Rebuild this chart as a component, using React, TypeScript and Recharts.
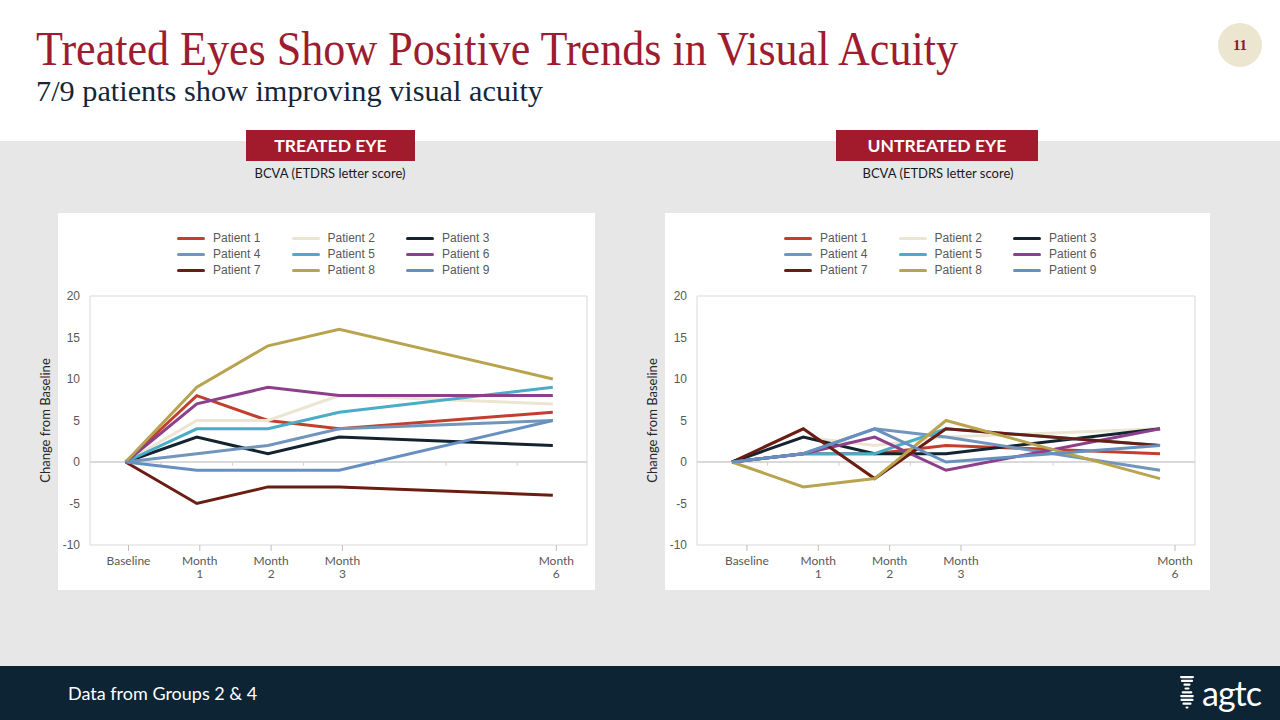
import React from 'react'
import { LineChart, Line, XAxis, YAxis, ReferenceLine, ReferenceArea } from 'recharts'

// x positions are months since treatment
const months = [0, 1, 2, 3, 6]
const yTicks = [-10, -5, 0, 5, 10, 15, 20]
const zeroTicks = [0.5, 1.5, 2.5, 3.5, 4.5, 5.5]

const patientNames = [
  'Patient 1', 'Patient 2', 'Patient 3',
  'Patient 4', 'Patient 5', 'Patient 6',
  'Patient 7', 'Patient 8', 'Patient 9',
]
const patientColors = [
  '#c23f2d', '#ebe5d1', '#13232f',
  '#7295bd', '#4aacc6', '#8c3f8b',
  '#6c1d13', '#b8a34f', '#6790c1',
]

// treated eye, change in ETDRS letters
const treatedP1 = [0, 8, 5, 4, 6]
const treatedP2 = [0, 5, 5, 8, 7]
const treatedP3 = [0, 3, 1, 3, 2]
const treatedP4 = [0, 1, 2, 4, 5]
const treatedP5 = [0, 4, 4, 6, 9]
const treatedP6 = [0, 7, 9, 8, 8]
const treatedP7 = [0, -5, -3, -3, -4]
const treatedP8 = [0, 9, 14, 16, 10]
const treatedP9 = [0, -1, -1, -1, 5]

// untreated eye
const untreatedP1 = [0, 1, 1, 2, 1]
const untreatedP2 = [0, 3, 2, 3, 4]
const untreatedP3 = [0, 3, 1, 1, 4]
const untreatedP4 = [0, 1, 4, 3, -1]
const untreatedP5 = [0, 1, 1, 4, 2]
const untreatedP6 = [0, 1, 3, -1, 4]
const untreatedP7 = [0, 4, -2, 4, 2]
const untreatedP8 = [0, -3, -2, 5, -2]
const untreatedP9 = [0, 1, 4, 0, 2]

const treatedSeries = [
  treatedP1, treatedP2, treatedP3, treatedP4, treatedP5,
  treatedP6, treatedP7, treatedP8, treatedP9,
]
const untreatedSeries = [
  untreatedP1, untreatedP2, untreatedP3, untreatedP4, untreatedP5,
  untreatedP6, untreatedP7, untreatedP8, untreatedP9,
]

function buildRows(series: number[][]) {
  return months.map((m, i) => {
    const row: Record<string, number> = { month: m }
    series.forEach((s, k) => {
      row['p' + (k + 1)] = s[i]
    })
    return row
  })
}

const axisGrey = '#595959'
const frameGrey = '#d9d9d9'

function MonthTick(props: any) {
  const { x, y, payload } = props
  const v = payload.value
  const style = { fontFamily: 'Lato', fontSize: 12, fill: axisGrey }
  if (v === 0) {
    return (
      <text x={x} y={y} dy={12} textAnchor="middle" style={style}>
        Baseline
      </text>
    )
  }
  return (
    <text x={x} y={y} textAnchor="middle" style={style}>
      <tspan x={x} dy={12}>Month</tspan>
      <tspan x={x} dy={13}>{v}</tspan>
    </text>
  )
}

function AxisTitle(props: any) {
  const vb = props.viewBox || { x: 0, y: 0, width: 0, height: 0 }
  const cx = vb.x + 15
  const cy = vb.y + vb.height / 2
  return (
    <text
      x={cx}
      y={cy}
      transform={`rotate(-90 ${cx} ${cy})`}
      textAnchor="middle"
      dominantBaseline="central"
      style={{ fontFamily: 'Lato', fontSize: 13, fill: '#262626' }}
    >
      Change from Baseline
    </text>
  )
}

function PatientLegend() {
  return (
    <div
      style={{
        position: 'absolute',
        left: 119,
        top: 17,
        display: 'grid',
        gridTemplateColumns: '114.5px 114.5px 114.5px',
        rowGap: 0,
        fontFamily: '"Liberation Sans", Arial, sans-serif',
        fontSize: 12,
        color: axisGrey,
      }}
    >
      {patientNames.map((n, k) => (
        <div key={n} style={{ display: 'flex', alignItems: 'center', height: 16 }}>
          <span
            style={{
              display: 'inline-block',
              width: 28,
              height: 3,
              borderRadius: 2,
              background: patientColors[k],
              marginRight: 8,
            }}
          />
          {n}
        </div>
      ))}
    </div>
  )
}

function PatientChart({
  series,
  dataDomain,
  labelDomain,
  width,
  right,
}: {
  series: number[][]
  dataDomain: [number, number]
  labelDomain: [number, number]
  width: number
  right: number
}) {
  const rows = buildRows(series)
  return (
    <LineChart width={width} height={377} data={rows} margin={{ top: 83, right, bottom: 0, left: 0 }}>
      <XAxis
        xAxisId="lbl"
        dataKey="month"
        type="number"
        domain={labelDomain}
        allowDataOverflow
        ticks={months}
        interval={0}
        tick={<MonthTick />}
        tickLine={{ stroke: '#bfbfbf' }}
        tickSize={6}
        tickMargin={2}
        axisLine={false}
        height={45}
      />
      <XAxis xAxisId="d" dataKey="month" type="number" domain={dataDomain} allowDataOverflow hide height={0} />
      <YAxis
        type="number"
        domain={[-10, 20]}
        ticks={yTicks}
        interval={0}
        width={60}
        axisLine={false}
        tickLine={false}
        tickMargin={4}
        tick={{ fontFamily: '"Liberation Sans", Arial, sans-serif', fontSize: 12, fill: axisGrey }}
        label={<AxisTitle />}
      />
      <ReferenceArea
        xAxisId="d"
        x1={dataDomain[0]}
        x2={dataDomain[1]}
        y1={-10}
        y2={20}
        fill="#ffffff"
        fillOpacity={0}
        stroke={frameGrey}
        strokeWidth={1}
        ifOverflow="visible"
      />
      <ReferenceLine xAxisId="d" y={0} stroke={frameGrey} strokeWidth={2} />
      {zeroTicks.map((h) => (
        <ReferenceLine
          key={h}
          xAxisId="d"
          segment={[{ x: h, y: 0 }, { x: h, y: -0.45 }]}
          stroke="#cfcfcf"
          strokeWidth={1}
        />
      ))}
      {series.map((_, k) => (
        <Line
          key={k}
          xAxisId="d"
          type="linear"
          dataKey={'p' + (k + 1)}
          name={patientNames[k]}
          stroke={patientColors[k]}
          strokeWidth={3}
          dot={false}
          activeDot={false}
          isAnimationActive={false}
        />
      ))}
    </LineChart>
  )
}

function PanelHeader({ left, width, title, center }: { left: number; width: number; title: string; center: number }) {
  return (
    <>
      <div
        style={{
          position: 'absolute',
          left,
          top: 130,
          width,
          height: 31,
          background: '#a11b2c',
          color: '#fff',
          fontFamily: 'Lato',
          fontWeight: 700,
          fontSize: 17.5,
          lineHeight: '32px',
          textAlign: 'center',
        }}
      >
        {title}
      </div>
      <div
        style={{
          position: 'absolute',
          left: center - 120,
          width: 240,
          top: 165,
          textAlign: 'center',
          fontFamily: 'Lato',
          fontSize: 13,
          color: '#1a1a1a',
        }}
      >
        BCVA (ETDRS letter score)
      </div>
    </>
  )
}

function Logo() {
  const rungs = [0, 1, 2, 3, 4, 5, 6, 7, 8]
  return (
    <div style={{ position: 'absolute', left: 1176, top: 675, display: 'flex', alignItems: 'center' }}>
      <svg width={22} height={36}>
        {rungs.map((r) => {
          const w = 3 + 11 * Math.abs(Math.cos((r / 8) * Math.PI * 1.5))
          return <rect key={r} x={11 - w / 2} y={1 + r * 3.8} width={w} height={2.2} rx={1.1} fill="#fff" />
        })}
      </svg>
      <span style={{ fontFamily: 'Lato', fontSize: 34, color: '#fff', marginLeft: 4, lineHeight: '36px', letterSpacing: -1 }}>
        agtc
      </span>
    </div>
  )
}

export default function App() {
  return (
    <div
      style={{
        position: 'absolute',
        left: 0,
        top: 0,
        width: 1280,
        height: 720,
        overflow: 'hidden',
        background: '#ffffff',
      }}
    >
      <div style={{ position: 'absolute', left: 0, top: 141, width: 1280, height: 525, background: '#e7e7e7' }} />
      <div style={{ position: 'absolute', left: 0, top: 666, width: 1280, height: 54, background: '#0c2434' }} />

      <svg style={{ position: 'absolute', left: 0, top: 0 }} width={1280} height={130}>
        <text
          x={36}
          y={65}
          textLength={922}
          lengthAdjust="spacingAndGlyphs"
          style={{ fontFamily: '"Liberation Serif", serif', fontSize: 48, fill: '#9e1c2f' }}
        >
          Treated Eyes Show Positive Trends in Visual Acuity
        </text>
        <text
          x={36}
          y={101}
          textLength={507}
          lengthAdjust="spacingAndGlyphs"
          style={{ fontFamily: '"Liberation Serif", serif', fontSize: 29, fill: '#13263a' }}
        >
          7/9 patients show improving visual acuity
        </text>
        <circle cx={1240} cy={45} r={22} fill="#ece6d1" />
        <text
          x={1240}
          y={50}
          textAnchor="middle"
          style={{ fontFamily: '"Liberation Serif", serif', fontWeight: 700, fontSize: 15, fill: '#8e1b2b' }}
        >
          11
        </text>
      </svg>

      <PanelHeader left={246} width={169} title="TREATED EYE" center={330} />
      <PanelHeader left={836} width={202} title="UNTREATED EYE" center={938} />

      <div style={{ position: 'absolute', left: 58, top: 213, width: 537, height: 377, background: '#fff' }}>
        <PatientLegend />
      </div>
      <div style={{ position: 'absolute', left: 665, top: 213, width: 545, height: 377, background: '#fff' }}>
        <PatientLegend />
      </div>

      <div style={{ position: 'absolute', left: 30, top: 213 }}>
        <PatientChart series={treatedSeries} dataDomain={[-0.5, 6.48]} labelDomain={[-0.54, 6.43]} width={565} right={8} />
      </div>
      <div style={{ position: 'absolute', left: 637, top: 213 }}>
        <PatientChart series={untreatedSeries} dataDomain={[-0.49, 6.49]} labelDomain={[-0.7, 6.28]} width={573} right={15} />
      </div>

      <div
        style={{
          position: 'absolute',
          left: 68,
          top: 681,
          fontFamily: 'Lato',
          fontSize: 18,
          color: '#fff',
          lineHeight: '24px',
        }}
      >
        Data from Groups 2 &amp; 4
      </div>
      <Logo />
    </div>
  )
}
